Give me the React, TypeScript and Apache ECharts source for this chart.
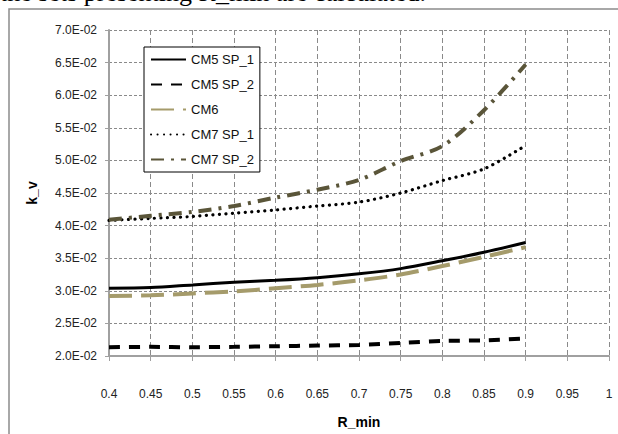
import React, { useEffect, useRef } from "react";
import * as echarts from "echarts";

// R_min sample points
const rMin = [0.4, 0.45, 0.5, 0.55, 0.6, 0.65, 0.7, 0.75, 0.8, 0.85, 0.9];

// k_v for each configuration
const cm5Sp1 = [0.0304, 0.0305, 0.0309, 0.0313, 0.0316, 0.032, 0.0326, 0.0334, 0.0346, 0.0359, 0.0374];
const cm5Sp2 = [0.02135, 0.0214, 0.02135, 0.0214, 0.0215, 0.0216, 0.0217, 0.022, 0.0223, 0.0224, 0.0227];
const cm6 = [0.0292, 0.0293, 0.0296, 0.0299, 0.0304, 0.0309, 0.0316, 0.0325, 0.0338, 0.0352, 0.0367];
const cm7Sp1 = [0.0408, 0.0411, 0.0414, 0.0419, 0.0424, 0.043, 0.0436, 0.045, 0.0469, 0.0487, 0.0523];
const cm7Sp2 = [0.0409, 0.0415, 0.0421, 0.043, 0.0443, 0.0455, 0.047, 0.0499, 0.0522, 0.0577, 0.0647];

const seriesNames = ["CM5 SP_1", "CM5 SP_2", "CM6", "CM7 SP_1", "CM7 SP_2"];

const FONT = "'Liberation Sans', Arial, sans-serif";

const pairs = (ys: number[]) => rMin.map((x, i) => [x, ys[i]]);

// 0.045 -> "4.5E-02"
const fmtSci = (v: number) => {
  const [m, e] = v.toExponential(1).toUpperCase().split("E");
  const neg = e.startsWith("-");
  const digits = e.replace(/[+-]/, "").padStart(2, "0");
  return `${m}E${neg ? "-" : "+"}${digits}`;
};

export default function App() {
  const ref = useRef<HTMLDivElement>(null);

  useEffect(() => {
    if (!ref.current) return;
    const chart = echarts.init(ref.current, null, { renderer: "svg" });

    const lineSeries = (
      name: string,
      ys: number[],
      color: string,
      width: number,
      type: any,
      cap: string = "butt"
    ) => ({
      name,
      type: "line",
      data: pairs(ys),
      smooth: 0.3,
      symbol: "none",
      lineStyle: { color, width, type, cap },
      itemStyle: { color },
      z: 3,
    });

    chart.setOption({
      animation: false,
      backgroundColor: "#ffffff",
      grid: { left: 109, top: 30, right: 9, bottom: 71, containLabel: false },
      legend: {
        data: seriesNames,
        orient: "vertical",
        left: 144,
        top: 47,
        padding: [6, 6, 6, 6],
        itemWidth: 35,
        itemHeight: 14,
        itemGap: 12,
        borderColor: "#000",
        borderWidth: 1,
        backgroundColor: "#fff",
        // line sample only, no marker
        itemStyle: { opacity: 0 },
        textStyle: { fontFamily: FONT, fontSize: 13, color: "#111" },
      },
      xAxis: {
        type: "value",
        min: 0.4,
        max: 1,
        interval: 0.05,
        name: "R_min",
        nameLocation: "middle",
        nameGap: 59,
        nameTextStyle: { fontFamily: FONT, fontSize: 14, fontWeight: "bold", color: "#000" },
        axisLine: { show: true, onZero: false, lineStyle: { color: "#a0a0a0", width: 2 } },
        axisTick: { show: true, length: 5, lineStyle: { color: "#a0a0a0", width: 1 } },
        axisLabel: {
          margin: 32,
          fontFamily: FONT,
          fontSize: 12,
          color: "#222",
          formatter: (v: number) => String(+v.toFixed(2)),
        },
        splitLine: { show: true, lineStyle: { color: "#8a8a8a", width: 1, type: [5, 3] } },
      },
      yAxis: {
        type: "value",
        min: 0.02,
        max: 0.07,
        interval: 0.005,
        name: "k_v",
        nameLocation: "middle",
        nameRotate: 90,
        nameGap: 70,
        nameTextStyle: { fontFamily: FONT, fontSize: 14, fontWeight: "bold", color: "#000" },
        axisLine: { show: true, onZero: false, lineStyle: { color: "#a0a0a0", width: 2 } },
        axisTick: { show: true, length: 4, lineStyle: { color: "#a0a0a0", width: 1 } },
        axisLabel: {
          margin: 12,
          fontFamily: FONT,
          fontSize: 12,
          color: "#222",
          formatter: (v: number) => fmtSci(v),
        },
        splitLine: { show: true, lineStyle: { color: "#8a8a8a", width: 1, type: [3, 2] } },
      },
      graphic: [
        {
          type: "rect",
          shape: { x: 9, y: 9, width: 800, height: 600 },
          style: { fill: "none", stroke: "#8c8c8c", lineWidth: 1.5 },
          silent: true,
          z: -1,
        },
        {
          type: "text",
          x: 0,
          y: -8,
          style: {
            text: "the sets presenting R_min are calculated.",
            fontFamily: "'Liberation Serif', 'Times New Roman', serif",
            fontSize: 26,
            fill: "#000",
            textVerticalAlign: "middle",
          },
          silent: true,
          z: 10,
        },
      ],
      series: [
        lineSeries(seriesNames[0], cm5Sp1, "#000000", 3),
        lineSeries(seriesNames[1], cm5Sp2, "#000000", 4, [11, 9]),
        lineSeries(seriesNames[2], cm6, "#a59b6b", 4, [23, 9]),
        lineSeries(seriesNames[3], cm7Sp1, "#000000", 3.2, [0.1, 6.4], "round"),
        lineSeries(seriesNames[4], cm7Sp2, "#5a5539", 4, [13, 7, 3, 7]),
      ],
    });

    return () => chart.dispose();
  }, []);

  return (
    <div
      ref={ref}
      style={{ position: "fixed", left: 0, top: 0, width: 618, height: 434 }}
    />
  );
}
